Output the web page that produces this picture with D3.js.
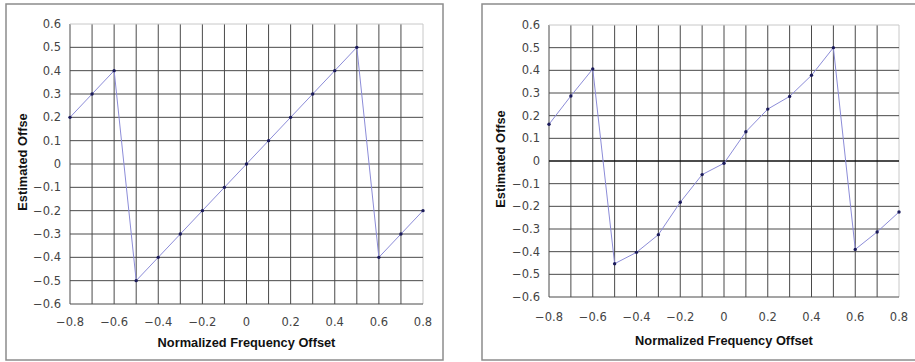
<!DOCTYPE html>
<html>
<head>
<meta charset="utf-8">
<script src="https://cdn.jsdelivr.net/npm/d3@7"></script>
<style>
  body { margin: 0; background: #fff; }
  svg { display: block; }
  .tick-label { font-family: "DejaVu Sans", sans-serif; font-size: 11.5px; fill: #444; }
  .axis-title { font-family: "Liberation Sans", Arial, sans-serif; font-size: 12.8px; font-weight: bold; fill: #111; }
</style>
</head>
<body>
<svg id="chart" width="915" height="362" viewBox="0 0 915 362"></svg>
<script>
// Normalized frequency offset (x) and estimated offset for each panel
const freqOffsets = [-0.8, -0.7, -0.6, -0.5, -0.4, -0.3, -0.2, -0.1, 0, 0.1, 0.2, 0.3, 0.4, 0.5, 0.6, 0.7, 0.8];
const idealEstimates = [0.2, 0.3, 0.4, -0.5, -0.4, -0.3, -0.2, -0.1, 0, 0.1, 0.2, 0.3, 0.4, 0.5, -0.4, -0.3, -0.2];
const measuredEstimates = [0.162, 0.287, 0.406, -0.453, -0.403, -0.325, -0.182, -0.06, -0.01, 0.129, 0.229, 0.285, 0.378, 0.5, -0.39, -0.313, -0.225];

const xTicks = [-0.8, -0.6, -0.4, -0.2, 0, 0.2, 0.4, 0.6, 0.8];
const xGrid = freqOffsets;
const yTicks = [-0.6, -0.5, -0.4, -0.3, -0.2, -0.1, 0, 0.1, 0.2, 0.3, 0.4, 0.5, 0.6];

const xTitle = "Normalized Frequency Offset";
const yTitle = "Estimated Offse";

const svg = d3.select('#chart');
const fmt = d => d === 0 ? "0" : d3.format(".1f")(d);

function drawPanel(values, box, plot, opts) {
    const g = svg.append('g');

    // Panel frame
    g.append('rect')
        .attr('x', box.x).attr('y', box.y)
        .attr('width', box.w).attr('height', box.h)
        .attr('fill', '#fff')
        .attr('stroke', '#8c8c8c')
        .attr('stroke-width', 1.5);

    const x = d3.scaleLinear().domain([-0.8, 0.8]).range([plot.left, plot.right]);
    const y = d3.scaleLinear().domain([-0.6, 0.6]).range([plot.bottom, plot.top]);

    // Grid lines
    g.append('g').selectAll('line')
        .data(xGrid)
        .enter()
        .append('line')
        .attr('x1', d => x(d)).attr('x2', d => x(d))
        .attr('y1', plot.top).attr('y2', plot.bottom)
        .attr('stroke', d => d === 0.8 ? '#c8c8c8' : '#4a4a4a')
        .attr('stroke-width', 1);

    g.append('g').selectAll('line')
        .data(yTicks)
        .enter()
        .append('line')
        .attr('x1', plot.left).attr('x2', plot.right)
        .attr('y1', d => y(d)).attr('y2', d => y(d))
        .attr('stroke', d => d === 0.6 ? '#c8c8c8' : (d === 0 && opts.zeroLine ? '#111' : '#4a4a4a'))
        .attr('stroke-width', d => d === 0 && opts.zeroLine ? 1.6 : 1);

    // Y tick labels
    g.append('g').selectAll('text')
        .data(yTicks)
        .enter()
        .append('text')
        .attr('class', 'tick-label')
        .attr('x', plot.left - 9)
        .attr('y', d => y(d))
        .attr('dy', '0.35em')
        .attr('text-anchor', 'end')
        .text(fmt);

    // X tick labels
    g.append('g').selectAll('text')
        .data(xTicks)
        .enter()
        .append('text')
        .attr('class', 'tick-label')
        .attr('x', d => x(d))
        .attr('y', plot.bottom + opts.xLabelGap)
        .attr('dy', '0.35em')
        .attr('text-anchor', 'middle')
        .text(fmt);

    // Axis titles
    g.append('text')
        .attr('class', 'axis-title')
        .attr('x', (plot.left + plot.right) / 2)
        .attr('y', opts.xTitleY)
        .attr('dy', '0.35em')
        .attr('text-anchor', 'middle')
        .text(xTitle);

    g.append('text')
        .attr('class', 'axis-title')
        .attr('transform', 'translate(' + opts.yTitleX + ',' + opts.yTitleY + ') rotate(-90)')
        .attr('dy', '0.35em')
        .attr('text-anchor', 'middle')
        .text(yTitle);

    // Data line and points
    const pts = freqOffsets.map((f, i) => [f, values[i]]);
    g.append('path')
        .datum(pts)
        .attr('fill', 'none')
        .attr('stroke', '#8c8cd8')
        .attr('stroke-width', 1)
        .attr('d', d3.line().x(d => x(d[0])).y(d => y(d[1])));

    g.append('g').selectAll('circle')
        .data(pts)
        .enter()
        .append('circle')
        .attr('cx', d => x(d[0]))
        .attr('cy', d => y(d[1]))
        .attr('r', 1.7)
        .attr('fill', '#1a1a5a');
}

drawPanel(idealEstimates,
    { x: 6, y: 4, w: 437, h: 356 },
    { left: 70, right: 423, top: 24, bottom: 304 },
    { zeroLine: false, xLabelGap: 18, xTitleY: 343, yTitleX: 23, yTitleY: 162 });

drawPanel(measuredEstimates,
    { x: 482, y: 4, w: 440, h: 356 },
    { left: 549, right: 899, top: 25, bottom: 297 },
    { zeroLine: true, xLabelGap: 20, xTitleY: 341, yTitleX: 501, yTitleY: 159 });
</script>
</body>
</html>
